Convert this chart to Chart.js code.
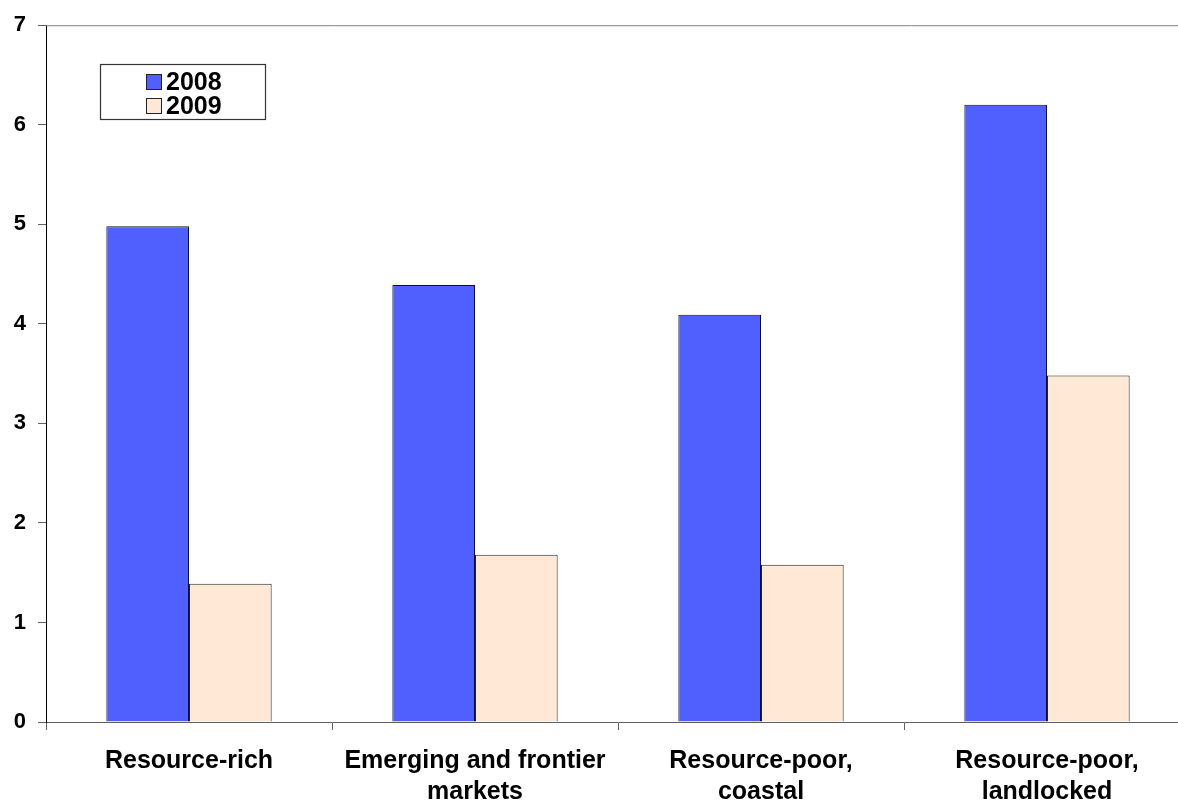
<!DOCTYPE html>
<html>
<head>
<meta charset="utf-8">
<script src="https://cdn.jsdelivr.net/npm/chart.js@4"></script>
<style>
  html, body { margin: 0; padding: 0; background: #fff; overflow: hidden; }
  #wrap { width: 1200px; height: 804px; }
</style>
</head>
<body>
<div id="wrap"><canvas id="bars" width="1200" height="804"></canvas></div>
<script>
const categories = [['Resource-rich'], ['Emerging and frontier', 'markets'], ['Resource-poor,', 'coastal'], ['Resource-poor,', 'landlocked']];
const years = ['2008', '2009'];
const values2008 = [4.98, 4.39, 4.09, 6.2];
const values2009 = [1.39, 1.68, 1.58, 3.48];
const yTicks = [0, 1, 2, 3, 4, 5, 6, 7];

const FONT = "'Liberation Sans', Arial, sans-serif";

// legend box drawn inside the plot, plus the grey top border
const boxLegend = {
  id: 'boxLegend',
  afterDraw(chart) {
    const ctx = chart.ctx;
    const area = chart.chartArea;
    ctx.save();
    ctx.strokeStyle = '#808080';
    ctx.lineWidth = 1;
    ctx.beginPath();
    ctx.moveTo(area.left, area.top + 0.5);
    ctx.lineTo(chart.width, area.top + 0.5);
    ctx.stroke();

    ctx.fillStyle = '#fff';
    ctx.fillRect(100.5, 64.5, 165, 55);
    ctx.strokeStyle = '#333';
    ctx.lineWidth = 1.2;
    ctx.strokeRect(100.5, 64.5, 165, 55);

    ctx.font = 'bold 25px ' + FONT;
    ctx.textBaseline = 'middle';
    ctx.textAlign = 'left';
    chart.data.datasets.forEach((ds, i) => {
      const y = 82 + i * 24;
      ctx.fillStyle = ds.backgroundColor;
      ctx.fillRect(146, y - 8, 16, 16);
      ctx.strokeStyle = '#222';
      ctx.lineWidth = 1;
      ctx.strokeRect(146.5, y - 7.5, 15, 15);
      ctx.fillStyle = '#000';
      ctx.fillText(ds.label, 166, y + 1);
    });
    ctx.restore();
  }
};

new Chart(document.getElementById('bars'), {
  type: 'bar',
  data: {
    labels: categories,
    datasets: [{
      label: years[0],
      data: values2008,
      backgroundColor: '#5060FF',
      borderColor: '#111',
      borderWidth: 1
    }, {
      label: years[1],
      data: values2009,
      backgroundColor: '#FFE9D6',
      borderColor: '#222',
      borderWidth: 1
    }]
  },
  options: {
    responsive: false,
    animation: false,
    devicePixelRatio: 1,
    layout: { padding: { top: 24, right: 10, left: 0, bottom: 0 } },
    datasets: { bar: { categoryPercentage: 0.578, barPercentage: 1 } },
    plugins: {
      legend: { display: false },
      title: { display: false },
      tooltip: { enabled: false }
    },
    scales: {
      x: {
        z: 1,
        grid: { offset: true, drawOnChartArea: false, drawTicks: true, tickLength: 8, color: '#606060' },
        border: { color: '#606060', width: 1 },
        ticks: {
          color: '#000',
          padding: 16,
          maxRotation: 0,
          autoSkip: false,
          font: { family: FONT, size: 25, weight: 'bold', lineHeight: 1.22 }
        },
        afterFit(scale) { scale.height = 82; }
      },
      y: {
        min: 0,
        max: 7,
        afterBuildTicks(scale) { scale.ticks = yTicks.map(v => ({ value: v })); },
        grid: { drawOnChartArea: false, drawTicks: true, tickLength: 8, color: '#606060' },
        border: { color: '#000', width: 1 },
        ticks: {
          color: '#000',
          padding: 12,
          font: { family: FONT, size: 22, weight: 'bold' }
        },
        afterFit(scale) { scale.width = 46; }
      }
    }
  },
  plugins: [boxLegend]
});
</script>
</body>
</html>
